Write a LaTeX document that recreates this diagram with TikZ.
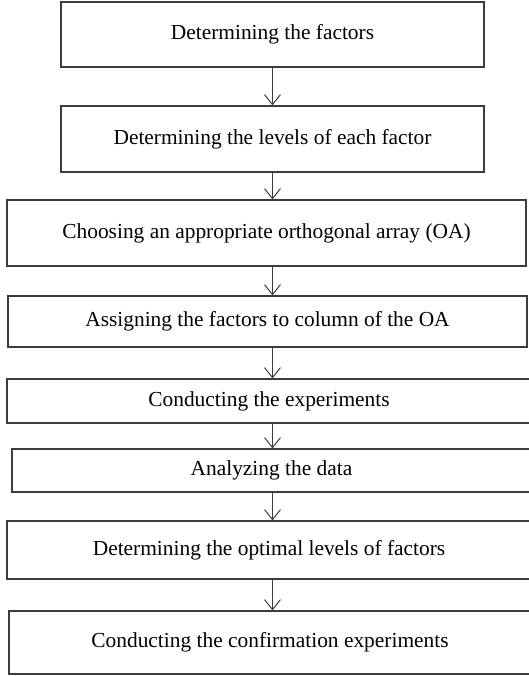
\documentclass[tikz,border=0pt]{standalone}
\usepackage{fontspec}
\setmainfont{Liberation Serif}
\usepackage{tikz}
\usetikzlibrary{arrows.meta, positioning}
\definecolor{linegray}{RGB}{60,60,60}
\tikzset{
  stagebox/.style={rectangle, draw=linegray, line width=0.6pt,
    inner sep=0pt, text centered,
    font=\fontsize{10.7}{12}\selectfont},
  arr/.style={-{Straight Barb[length=5pt, width=8pt]}, line width=0.5pt, draw=linegray},
}

\begin{document}
\begin{tikzpicture}[x=0.5pt, y=-0.5pt]
  \useasboundingbox (0,0) rectangle (529,676);

  % Stages of the procedure
  \node[stagebox, minimum width=211.5pt, minimum height=32.5pt] (factors) at (272.5,34.5)
       {Determining the factors};
  \node[stagebox, minimum width=211.5pt, minimum height=33pt] (levels) at (272.5,139)
       {Determining the levels of each factor};
  \node[stagebox, minimum width=259.5pt, minimum height=33pt] (choose) at (266.5,233)
       {Choosing an appropriate orthogonal array (OA)};
  \node[stagebox, minimum width=259.5pt, minimum height=25.5pt] (assign) at (267.5,321.5)
       {Assigning the factors to column of the OA};
  \node[stagebox, minimum width=262pt, minimum height=22pt] (conduct) at (269,401)
       {Conducting the experiments};
  \node[stagebox, minimum width=259.5pt, minimum height=21.5pt] (analyze) at (271.5,470.5)
       {Analyzing the data};
  \node[stagebox, minimum width=262pt, minimum height=29pt] (optimal) at (269,550)
       {Determining the optimal levels of factors};
  \node[stagebox, minimum width=261pt, minimum height=31.5pt] (confirm) at (270,642.5)
       {Conducting the confirmation experiments};

  % Arrows between stages
  \draw[arr] (factors.south) -- (levels.north);
  \draw[arr] (levels.south) -- (levels.south |- choose.north);
  \draw[arr] (levels.south |- choose.south) -- (levels.south |- assign.north);
  \draw[arr] (levels.south |- assign.south) -- (levels.south |- conduct.north);
  \draw[arr] (levels.south |- conduct.south) -- (levels.south |- analyze.north);
  \draw[arr] (levels.south |- analyze.south) -- (levels.south |- optimal.north);
  \draw[arr] (levels.south |- optimal.south) -- (levels.south |- confirm.north);
\end{tikzpicture}
\end{document}
